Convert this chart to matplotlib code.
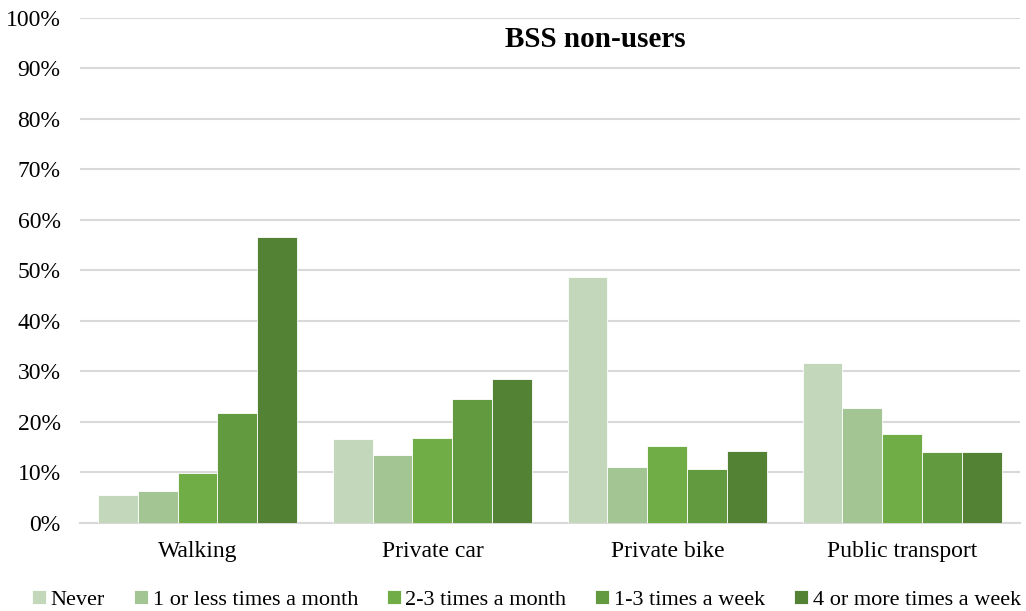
import matplotlib.pyplot as plt
import numpy as np

modes = ['Walking', 'Private car', 'Private bike', 'Public transport']
freq = ['Never', '1 or less times a month', '2-3 times a month',
        '1-3 times a week', '4 or more times a week']
never = [5.4, 16.5, 48.6, 31.6]
less_month = [6.2, 13.4, 11.0, 22.7]
two_three_month = [9.8, 16.8, 15.1, 17.5]
one_three_week = [21.7, 24.5, 10.7, 14.0]
four_week = [56.5, 28.4, 14.2, 14.0]
series = [never, less_month, two_three_month, one_three_week, four_week]
colors = ['#c3d7bb', '#a3c593', '#70ad47', '#629b3f', '#548235']

plt.rcParams['font.family'] = ['Liberation Serif', 'DejaVu Serif']

fig = plt.figure(figsize=(10.26, 6.11), dpi=100)
ax = fig.add_axes([0.078, 0.1448, 0.916, 0.8257])

x = np.arange(len(modes))
w = 0.17
for i, vals in enumerate(series):
    ax.bar(x + (i - 2) * w, vals, w, color=colors[i], edgecolor='white',
           linewidth=0.6, label=freq[i], zorder=3)

ax.set_xlim(-0.5, 3.5)
ax.set_ylim(0, 100)
ax.set_yticks(range(0, 101, 10))
ax.set_yticklabels([f'{v}%' for v in range(0, 101, 10)])
ax.set_xticks(x)
ax.set_xticklabels(modes)
ax.grid(axis='y', color='#d9d9d9', linewidth=1.5, zorder=0)
for s in ['top', 'right', 'left']:
    ax.spines[s].set_visible(False)
ax.spines['bottom'].set_color('#d9d9d9')
ax.spines['bottom'].set_linewidth(1.5)
ax.tick_params(axis='both', length=0, labelsize=17, pad=14)
ax.tick_params(axis='x', pad=13)
ax.text(0.548, 0.958, 'BSS non-users', transform=ax.transAxes, ha='center',
        va='center', fontsize=21, fontweight='bold')

ax.legend(loc='center', bbox_to_anchor=(0.475, -0.153), ncol=5,
          frameon=False, fontsize=16, handlelength=0.62, handleheight=0.62,
          handletextpad=0.22, columnspacing=1.3, borderaxespad=0)

fig.savefig('out.png', dpi=100)
